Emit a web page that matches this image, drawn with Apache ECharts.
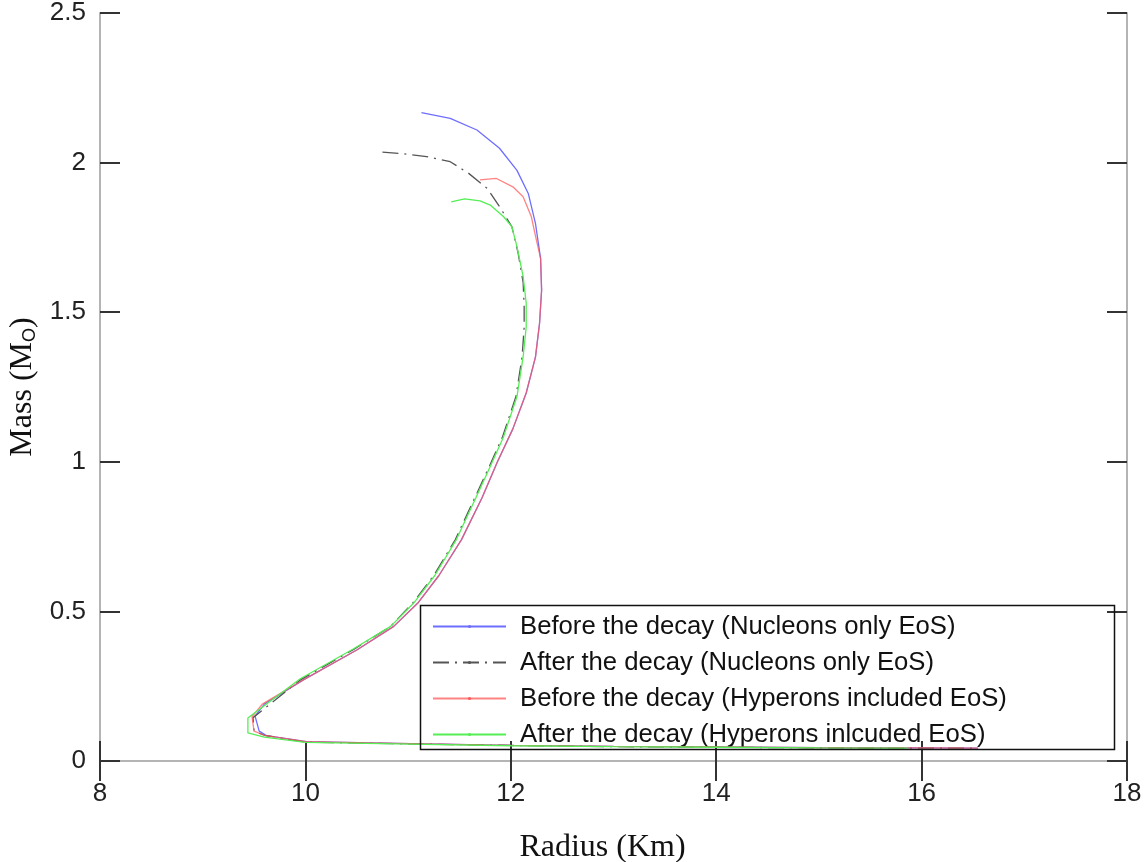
<!DOCTYPE html>
<html>
<head>
<meta charset="utf-8">
<script src="https://cdn.jsdelivr.net/npm/echarts@6/dist/echarts.min.js"></script>
<style>
html,body{margin:0;padding:0;background:#fff;}
#chart{width:1146px;height:862px;}
</style>
</head>
<body>
<div id="chart"></div>
<script>
// Radius (km) and mass (solar masses)
const blueR = [11.13, 11.41, 11.67, 11.89, 12.06, 12.17, 12.24, 12.29, 12.30, 12.28, 12.24, 12.15, 12.02, 11.87, 11.72, 11.52, 11.30, 11.10, 10.86, 10.50, 9.98, 9.60, 9.51, 9.55, 9.62, 10.01, 10.89, 12.0, 13.0, 14.0, 15.0, 16.0, 16.55];
const blueM = [2.167, 2.148, 2.109, 2.048, 1.974, 1.897, 1.797, 1.68, 1.574, 1.463, 1.35, 1.23, 1.11, 1.0, 0.88, 0.74, 0.62, 0.53, 0.45, 0.371, 0.271, 0.19, 0.15, 0.10, 0.085, 0.065, 0.059, 0.052, 0.049, 0.047, 0.045, 0.044, 0.043];

const grayR = [10.75, 10.95, 11.18, 11.41, 11.59, 11.77, 11.89, 12.01, 12.07, 12.12, 12.13, 12.13, 12.11, 12.05, 11.92, 11.79, 11.65, 11.46, 11.25, 11.05, 10.83, 10.47, 9.96, 9.49, 9.50, 9.60, 10.0, 10.89, 12.0, 13.0, 14.0, 15.0, 16.0, 16.5];
const grayM = [2.035, 2.03, 2.02, 2.003, 1.964, 1.914, 1.853, 1.786, 1.70, 1.60, 1.518, 1.45, 1.351, 1.218, 1.084, 0.984, 0.88, 0.74, 0.62, 0.53, 0.45, 0.373, 0.273, 0.145, 0.10, 0.086, 0.063, 0.058, 0.052, 0.048, 0.046, 0.044, 0.043, 0.043];

const redR = [11.70, 11.86, 12.02, 12.12, 12.20, 12.25, 12.29, 12.30, 12.28, 12.24, 12.15, 12.02, 11.87, 11.72, 11.52, 11.30, 11.10, 10.86, 10.50, 9.98, 9.58, 9.48, 9.50, 9.60, 10.01, 10.89, 12.0, 13.0, 14.0, 15.0, 16.0, 16.55];
const redM = [1.942, 1.947, 1.919, 1.886, 1.819, 1.74, 1.68, 1.574, 1.463, 1.35, 1.23, 1.11, 1.0, 0.88, 0.74, 0.62, 0.53, 0.45, 0.371, 0.271, 0.19, 0.148, 0.10, 0.086, 0.065, 0.059, 0.052, 0.049, 0.047, 0.045, 0.044, 0.043];

const greenR = [11.42, 11.55, 11.70, 11.80, 11.93, 12.01, 12.06, 12.12, 12.15, 12.15, 12.12, 12.06, 11.93, 11.80, 11.66, 11.47, 11.26, 11.06, 10.83, 10.47, 9.95, 9.44, 9.44, 9.60, 10.0, 10.89, 12.0, 13.0, 14.0, 15.0, 15.87];
const greenM = [1.869, 1.879, 1.872, 1.858, 1.819, 1.786, 1.719, 1.62, 1.53, 1.45, 1.351, 1.218, 1.084, 0.984, 0.88, 0.74, 0.62, 0.53, 0.45, 0.375, 0.275, 0.144, 0.094, 0.08, 0.062, 0.057, 0.051, 0.048, 0.046, 0.044, 0.043];

const seriesNames = [
  'Before the decay (Nucleons only EoS)',
  'After the decay (Nucleons only EoS)',
  'Before the decay (Hyperons included EoS)',
  'After the decay (Hyperons inlcuded EoS)'
];
const xTicks = {min: 8, max: 18, interval: 2};
const yTicks = {min: 0, max: 2.5, interval: 0.5};

function pairs(r, m) { return r.map((v, i) => [v, m[i]]); }

const chart = echarts.init(document.getElementById('chart'), null, {renderer: 'canvas'});

const axisLine = {show: true, lineStyle: {color: '#b4b4b4', width: 2}};
const axisTick = {show: true, inside: true, length: 20, lineStyle: {color: '#333', width: 2}};

function mkSeries(name, data, color, type, opacity, z) {
  return {
    name: name, type: 'line', data: data, showSymbol: false,
    symbol: 'circle', symbolSize: 3, smooth: false, z: z,
    lineStyle: {color: color, width: 1.3, type: type, opacity: opacity},
    itemStyle: {color: color},
    emphasis: {disabled: true}
  };
}

chart.setOption({
  animation: false,
  backgroundColor: '#fff',
  grid: {left: 100, right: 19, top: 13, bottom: 101, containLabel: false, outerBoundsMode: 'none'},
  xAxis: [{
    type: 'value', min: xTicks.min, max: xTicks.max, interval: xTicks.interval,
    position: 'bottom',
    axisLine: axisLine, axisTick: axisTick, splitLine: {show: false},
    axisLabel: {fontFamily: 'Liberation Sans, Arial', fontSize: 26, color: '#222', margin: 20},
    name: 'Radius (Km)', nameLocation: 'middle', nameGap: 71,
    nameTextStyle: {fontFamily: 'Liberation Serif, Times New Roman', fontSize: 32, color: '#111', padding: [0, 22, 0, 0]}
  }, {
    type: 'value', min: xTicks.min, max: xTicks.max, interval: xTicks.interval,
    position: 'top',
    axisLine: axisLine, axisTick: axisTick, splitLine: {show: false},
    axisLabel: {show: false}
  }],
  yAxis: [{
    type: 'value', min: yTicks.min, max: yTicks.max, interval: yTicks.interval,
    position: 'left',
    axisLine: axisLine, axisTick: axisTick, splitLine: {show: false},
    axisLabel: {fontFamily: 'Liberation Sans, Arial', fontSize: 26, color: '#222', margin: 14},
    name: 'Mass (M{sub|O})', nameLocation: 'middle', nameGap: 61,
    nameTextStyle: {
      fontFamily: 'Liberation Serif, Times New Roman', fontSize: 32, color: '#111',
      rich: {sub: {fontFamily: 'Liberation Sans, Arial', fontSize: 18, color: '#111', verticalAlign: 'bottom', padding: [12, 0, 0, 0]}}
    }
  }, {
    type: 'value', min: yTicks.min, max: yTicks.max, interval: yTicks.interval,
    position: 'right',
    axisLine: axisLine, axisTick: axisTick, splitLine: {show: false},
    axisLabel: {show: false}
  }],
  legend: {
    orient: 'vertical', left: 432, top: 613.5, padding: 0,
    itemWidth: 73, itemHeight: 4, itemGap: 10,
    data: seriesNames,
    textStyle: {fontFamily: 'Liberation Sans, Arial', fontSize: 25.7, color: '#111', padding: [0, 0, 0, 9]},
    selectedMode: false
  },
  graphic: [{
    type: 'rect', left: 418, top: 603, z: 100, silent: true,
    shape: {width: 694, height: 144},
    style: {fill: 'none', stroke: '#111', lineWidth: 1.5}
  }],
  series: [
    mkSeries(seriesNames[0], pairs(blueR, blueM), '#6e6eff', 'solid', 1, 2),
    mkSeries(seriesNames[1], pairs(grayR, grayM), '#555555', [16, 6, 2, 6], 1, 3),
    mkSeries(seriesNames[2], pairs(redR, redM), '#ff5a5a', 'solid', 0.75, 4),
    mkSeries(seriesNames[3], pairs(greenR, greenM), '#55ee55', 'solid', 1, 5)
  ]
});
</script>
</body>
</html>
